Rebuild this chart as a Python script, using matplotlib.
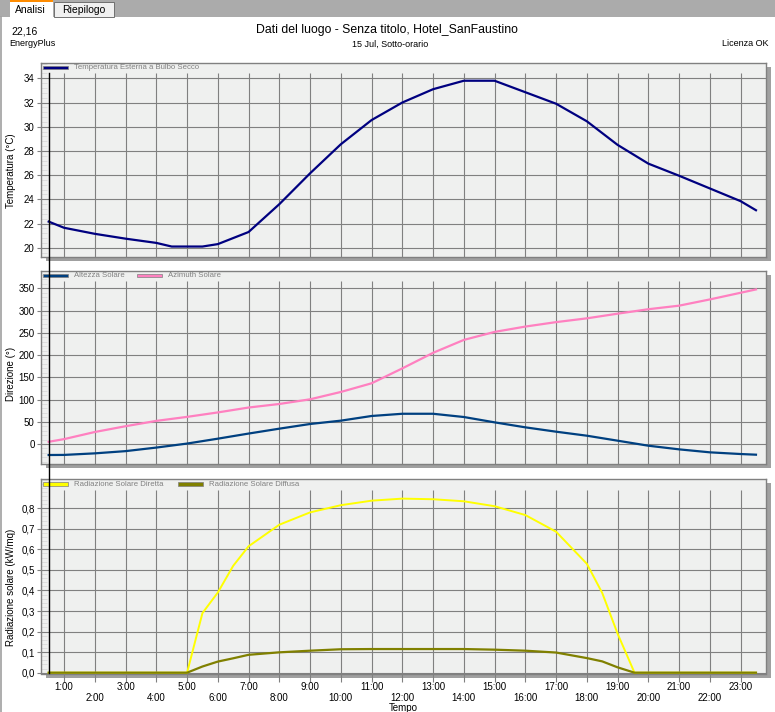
import matplotlib
matplotlib.use("Agg")
import matplotlib.pyplot as plt
import matplotlib.transforms as mtransforms
from matplotlib.patches import Rectangle
from matplotlib.lines import Line2D
from matplotlib.ticker import AutoMinorLocator, FuncFormatter

plt.rcParams['font.family'] = ['Liberation Sans', 'DejaVu Sans']

############
# data (15 Jul, sub-hourly)

ore_temp = [0.5, 1, 2, 3, 4, 4.5, 5.5, 6, 7, 8, 9, 10, 11, 12, 13, 14, 15, 16,
            17, 18, 19, 20, 21, 22, 23, 23.5]
temperatura = [22.16, 21.65, 21.15, 20.75, 20.4, 20.1, 20.1, 20.3, 21.3, 23.6,
               26.15, 28.55, 30.55, 32.0, 33.1, 33.8, 33.8, 32.85, 31.9, 30.45,
               28.5, 26.95, 25.95, 24.9, 23.85, 23.1]

ore_sole = [0.5, 1, 2, 3, 4, 5, 6, 7, 8, 9, 10, 11, 12, 13, 14, 15, 16, 17, 18,
            19, 20, 21, 22, 23, 23.5]
altezza = [-24.7, -24.5, -21, -16, -8, 1, 12, 23.5, 34.5, 45, 52.5, 63, 68, 68,
           60.7, 48.7, 37.5, 27.7, 18.7, 7.5, -3.8, -12, -18.7, -22.5, -24]
azimuth = [5, 11, 27, 40, 52, 61, 71, 82, 90, 100.5, 117, 136.5, 170, 205, 234,
           252, 264, 274, 282.5, 293, 303, 311, 325, 340, 347.5]

ore_rad = [0.5, 5, 5.5, 6, 6.5, 7, 8, 9, 10, 11, 12, 13, 14, 15, 16, 17, 18,
           18.5, 19, 19.55, 23.5]
diretta = [0, 0, 0.29, 0.39, 0.52, 0.615, 0.72, 0.78, 0.815, 0.837, 0.847, 0.844,
           0.834, 0.81, 0.767, 0.686, 0.53, 0.388, 0.19, 0, 0]
diffusa = [0, 0, 0.03, 0.054, 0.07, 0.087, 0.099, 0.107, 0.114, 0.115, 0.115,
           0.115, 0.115, 0.112, 0.107, 0.098, 0.071, 0.055, 0.026, 0, 0]

ore_tick = list(range(1, 24))
etichette = [f"{h}:00" if h % 2 else f"\n{h}:00" for h in ore_tick]

############
# layout helpers (pixel coords of the 775x712 screenshot)

W, H = 775, 712
def fx(x): return x / W
def fy(y): return 1 - y / H

GRIGIO = '#808080'
SFONDO = '#eff0ef'

fig = plt.figure(figsize=(W / 100, H / 100), dpi=100)
fig.patch.set_facecolor('white')

# tab bar
fig.add_artist(Rectangle((0, fy(17)), 1, 17 / H, transform=fig.transFigure,
                         facecolor='#ababab', edgecolor='none', zorder=-2))
fig.add_artist(Rectangle((fx(10), fy(17)), 43 / W, 17 / H, transform=fig.transFigure,
                         facecolor='white', edgecolor='none', zorder=-1))
fig.add_artist(Rectangle((fx(10), fy(2)), 43 / W, 2 / H, transform=fig.transFigure,
                         facecolor='#ff8c00', edgecolor='none', zorder=-1))
fig.add_artist(Rectangle((fx(54), fy(17)), 60 / W, 15 / H, transform=fig.transFigure,
                         facecolor='#f0f0f0', edgecolor='#707070', lw=0.7, zorder=-1))
fig.text(fx(30), fy(10), "Analisi", fontsize=7.5, ha='center', va='center')
fig.text(fx(84), fy(10), "Riepilogo", fontsize=7.5, ha='center', va='center')
fig.add_artist(Line2D([fx(0.8), fx(0.8)], [fy(17), 0], transform=fig.transFigure,
                      color='#a0a0a0', lw=1.2))

# header
fig.text(fx(11), fy(32), "22,16", fontsize=7.5, va='center')
fig.text(fx(9), fy(44), "EnergyPlus", fontsize=6.5, va='center')
fig.text(fx(387), fy(30), "Dati del luogo - Senza titolo, Hotel_SanFaustino",
         fontsize=8.8, ha='center', va='center')
fig.text(fx(390), fy(44), "15 Jul, Sotto-orario", fontsize=6.5, ha='center', va='center')
fig.text(fx(769), fy(44), "Licenza OK", fontsize=6.5, ha='right', va='center')

L, R = 41, 765.5
pannelli = [(62.7, 256.7), (270.7, 464.3), (479.3, 673.5)]
limiti = [(19.26, 35.29), (-45.6, 389.6), (-0.004, 0.941)]
ytick = [range(20, 35, 2), range(0, 351, 50), [i / 10 for i in range(9)]]
ylab = ["Temperatura (°C)", "Direzione (°)", "Radiazione solare (kW/mq)"]
ylab_y = [171, 374, 587]

axes = []
for i, (top, bot) in enumerate(pannelli):
    ax = fig.add_axes([fx(L), fy(bot), (R - L) / W, (bot - top) / H])
    fig.add_artist(Rectangle((fx(L + 5), fy(bot + 4)), (R - L) / W, (bot - top) / H,
                             transform=fig.transFigure, facecolor='#a0a0a0',
                             edgecolor='none', zorder=-1))
    ax.set_facecolor(SFONDO)
    for s in ax.spines.values():
        s.set_color(GRIGIO)
        s.set_linewidth(1.0)
    ax.set_xlim(0.25, 23.81)
    ax.set_ylim(*limiti[i])
    ax.set_yticks(list(ytick[i]))
    ax.yaxis.set_minor_locator(AutoMinorLocator(5))
    ax.tick_params(axis='y', which='major', direction='out', length=3, color=GRIGIO,
                   labelsize=7, pad=1.5)
    ax.tick_params(axis='y', which='minor', direction='in', length=4, color='#dadada')
    ax.yaxis.grid(True, color=GRIGIO, lw=0.8)
    ax.set_axisbelow(True)
    strip = 1 - 10.5 / (bot - top)
    ax.vlines(ore_tick, 0, strip, transform=ax.get_xaxis_transform(),
              color=GRIGIO, lw=0.8, zorder=0.5)
    fig.text(fx(11), fy(ylab_y[i]), ylab[i], rotation=90, fontsize=7,
             ha='center', va='center')
    axes.append(ax)

ax1, ax2, ax3 = axes
ax3.yaxis.set_major_formatter(FuncFormatter(lambda v, p: f"{v:.1f}".replace('.', ',')))

for ax in (ax1, ax2):
    ax.set_xticks([])
ax3.set_xticks(ore_tick)
ax3.set_xticklabels(etichette)
ax3.tick_params(axis='x', direction='out', length=5.5, color=GRIGIO, labelsize=7, pad=0.5)
ax3.set_xlabel("Tempo", fontsize=7, labelpad=0)

############
# series

ax1.plot(ore_temp, temperatura, color='#000080', lw=1.6, zorder=3)
ax2.plot(ore_sole, altezza, color='#004080', lw=1.6, zorder=3)
ax2.plot(ore_sole, azimuth, color='#ff80c0', lw=1.6, zorder=3)
ax3.plot(ore_rad, diretta, color='#ffff00', lw=1.4, zorder=3)
ax3.plot(ore_rad, diffusa, color='#808000', lw=1.6, zorder=3)

# legends drawn as in the original strip
def voce(ax, x0, nome, colore, altezza_px):
    h = 1 / altezza_px
    ax.add_patch(Rectangle((x0, 1 - 6.5 * h), 0.0345, 3.5 * h, transform=ax.transAxes,
                           facecolor=colore, edgecolor=GRIGIO, lw=0.5, clip_on=False,
                           zorder=4))
    ax.text(x0 + 0.0427, 1 - 5 * h, nome, transform=ax.transAxes, fontsize=5.6,
            color=GRIGIO, va='center')

voce(ax1, 0.0028, "Temperatura Esterna a Bulbo Secco", '#000080', 194)
voce(ax2, 0.0028, "Altezza Solare", '#004080', 193.6)
voce(ax2, 0.1325, "Azimuth Solare", '#ff80c0', 193.6)
voce(ax3, 0.0028, "Radiazione Solare Diretta", '#ffff00', 194.2)
voce(ax3, 0.189, "Radiazione Solare Diffusa", '#808000', 194.2)

# cursor line across all panels
tr = mtransforms.blended_transform_factory(ax1.transData, fig.transFigure)
fig.add_artist(Line2D([ore_temp[0], ore_temp[0]], [fy(73), fy(672.7)], transform=tr,
                      color='black', lw=1.0, zorder=5))

fig.savefig("out.png", dpi=100)
